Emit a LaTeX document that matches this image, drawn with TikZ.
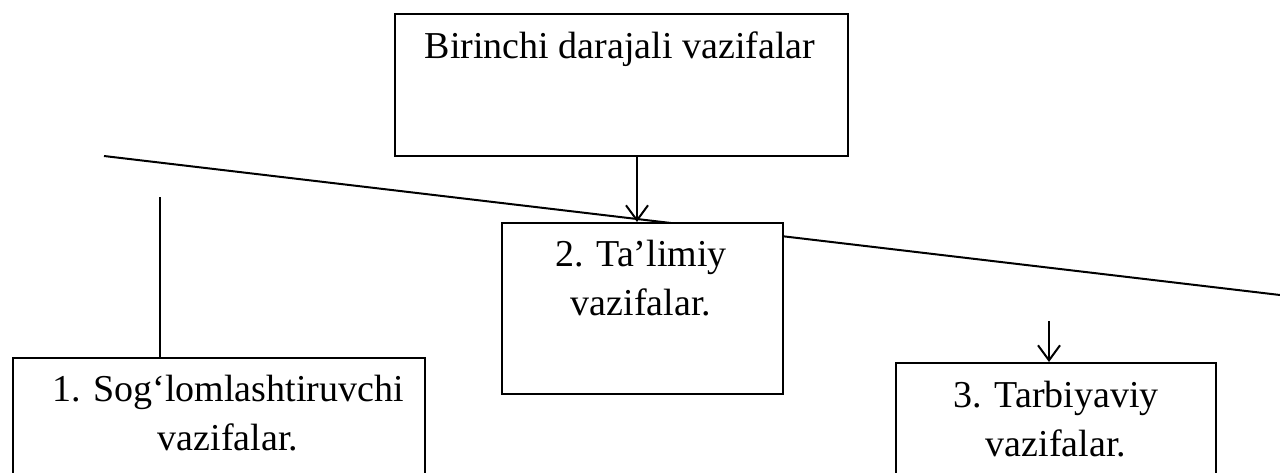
\documentclass[tikz,border=0pt]{standalone}
\usepackage{fontspec}
\setmainfont{Liberation Serif}
\usetikzlibrary{arrows.meta,positioning}

\begin{document}
\begin{tikzpicture}[x=1pt,y=-1pt,>={Straight Barb[length=15pt,width=22pt]},
  caixa/.style={draw,line width=2pt,fill=white,inner sep=0pt,anchor=north west},
  texto/.style={font=\fontsize{38}{49}\selectfont,align=center,inner sep=0pt,anchor=base}]
  \useasboundingbox (0,0) rectangle (1280,472);
  \clip (0,0) rectangle (1280,472);
  % linha inclinada por tras das caixas
  \coordinate (ini) at (104,156);
  \coordinate (fim) at (1280,295);
  \draw[line width=2pt] (ini) -- (fim);

  % caixas
  \node[caixa,minimum width=453,minimum height=142] (topo) at (394,13) {};
  \node[caixa,minimum width=281,minimum height=171] (ta) at (501,222) {};
  \node[caixa,minimum width=412,minimum height=200] (sog) at (12,357) {};
  \node[caixa,minimum width=320,minimum height=200] (tar) at (895,362) {};

  % textos (base = linha de base da ultima linha)
  \node[texto] (ttopo) at (620,58) {Birinchi darajali vazifalar};
  \node[texto] (tta) at (641,315) {2. Ta’limiy\\vazifalar.};
  \node[texto] (tsog) at (228,450) {1. Sog‘lomlashtiruvchi\\vazifalar.};
  \node[texto] (ttar) at (1056,456) {3. Tarbiyaviy\\vazifalar.};

  % setas e linha vertical
  \draw[->,line width=2pt] (topo.south -| 637,0) -- (ta.north -| 637,0);
  \coordinate (s1) at (160,197);
  \draw[line width=2pt] (s1) -- (s1 |- sog.north);
  \coordinate (s3) at (1049,321);
  \draw[->,line width=2pt] (s3) -- (s3 |- tar.north);
\end{tikzpicture}
\end{document}
